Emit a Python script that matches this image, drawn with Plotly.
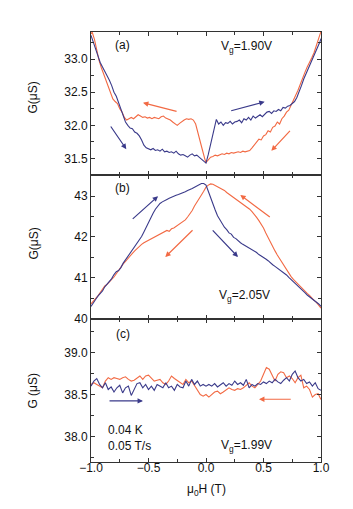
import plotly.graph_objects as go
from plotly.subplots import make_subplots

# panel (a), Vg = 1.90 V
h_a_up = [-1.00, -0.98, -0.96, -0.94, -0.92, -0.90, -0.88, -0.86, -0.84, -0.82,
          -0.80, -0.78, -0.76, -0.74, -0.72, -0.70, -0.68, -0.66, -0.64, -0.62,
          -0.60, -0.58, -0.56, -0.54, -0.52, -0.50, -0.48, -0.46, -0.44, -0.42,
          -0.40, -0.38, -0.36, -0.34, -0.32, -0.30, -0.28, -0.26, -0.24, -0.22,
          -0.20, -0.18, -0.16, -0.14, -0.12, -0.10, -0.08, -0.06, -0.04, -0.02,
          0.00, 0.02, 0.04, 0.06, 0.08, 0.09, 0.11, 0.13, 0.15, 0.17,
          0.19, 0.21, 0.23, 0.25, 0.27, 0.29, 0.31, 0.33, 0.35, 0.37,
          0.39, 0.41, 0.43, 0.45, 0.47, 0.49, 0.51, 0.53, 0.55, 0.57,
          0.59, 0.61, 0.63, 0.65, 0.67, 0.69, 0.71, 0.73, 0.75, 0.77,
          0.79, 0.81, 0.83, 0.85, 0.87, 0.89, 0.91, 0.93, 0.95, 0.97,
          0.99, 1.00]
g_a_up = [33.36, 33.25, 33.15, 33.05, 32.95, 32.88, 32.82, 32.75, 32.68, 32.60,
          32.50, 32.44, 32.34, 32.22, 32.15, 32.05, 32.00, 31.96, 31.95, 31.90,
          31.88, 31.84, 31.78, 31.70, 31.66, 31.64, 31.63, 31.65, 31.62, 31.63,
          31.61, 31.64, 31.60, 31.61, 31.59, 31.60, 31.58, 31.61, 31.57, 31.55,
          31.56, 31.54, 31.52, 31.55, 31.57, 31.54, 31.55, 31.52, 31.49, 31.47,
          31.43, 31.56, 31.72, 31.88, 32.04, 32.09, 32.02, 32.05, 32.00, 32.04,
          32.03, 32.06, 32.02, 32.05, 32.06, 32.08, 32.04, 32.10, 32.08, 32.12,
          32.08, 32.14, 32.11, 32.13, 32.16, 32.13, 32.17, 32.20, 32.21, 32.18,
          32.22, 32.21, 32.24, 32.22, 32.27, 32.26, 32.29, 32.30, 32.33, 32.36,
          32.42, 32.50, 32.60, 32.70, 32.78, 32.85, 32.92, 33.01, 33.08, 33.16,
          33.26, 33.31]

h_a_down = [-1.00, -0.99, -0.97, -0.95, -0.93, -0.91, -0.89, -0.87, -0.85, -0.83,
            -0.81, -0.79, -0.77, -0.75, -0.73, -0.71, -0.69, -0.67, -0.65, -0.63,
            -0.61, -0.59, -0.57, -0.55, -0.53, -0.51, -0.49, -0.47, -0.45, -0.43,
            -0.41, -0.39, -0.37, -0.35, -0.33, -0.31, -0.29, -0.27, -0.25, -0.23,
            -0.21, -0.19, -0.17, -0.15, -0.13, -0.11, -0.09, -0.07, -0.05, -0.03,
            -0.01, 0.00, 0.02, 0.04, 0.06, 0.08, 0.10, 0.12, 0.14, 0.16,
            0.18, 0.20, 0.22, 0.24, 0.26, 0.28, 0.30, 0.32, 0.34, 0.36,
            0.38, 0.40, 0.42, 0.44, 0.46, 0.48, 0.50, 0.52, 0.54, 0.56,
            0.58, 0.60, 0.62, 0.64, 0.66, 0.68, 0.70, 0.72, 0.74, 0.76,
            0.78, 0.80, 0.82, 0.84, 0.86, 0.88, 0.90, 0.92, 0.94, 0.96,
            0.98, 1.00]
g_a_down = [33.38, 33.41, 33.30, 33.12, 32.98, 32.87, 32.78, 32.66, 32.57, 32.48,
            32.40, 32.36, 32.33, 32.25, 32.20, 32.12, 32.08, 32.10, 32.12, 32.10,
            32.13, 32.16, 32.14, 32.12, 32.13, 32.11, 32.12, 32.10, 32.12, 32.11,
            32.10, 32.13, 32.14, 32.11, 32.10, 32.08, 32.05, 32.02, 32.00, 32.03,
            32.06, 32.08, 32.10, 32.09, 32.10, 32.08, 32.02, 31.90, 31.76, 31.62,
            31.49, 31.44, 31.48, 31.52, 31.53, 31.55, 31.54, 31.56, 31.57, 31.56,
            31.58, 31.57, 31.59, 31.58, 31.59, 31.60, 31.59, 31.61, 31.60, 31.61,
            31.62, 31.66, 31.70, 31.74, 31.79, 31.78, 31.84, 31.86, 31.92, 31.90,
            31.97, 31.99, 32.05, 32.02, 32.10, 32.14, 32.20, 32.23, 32.30, 32.37,
            32.45, 32.53, 32.62, 32.72, 32.80, 32.88, 32.94, 33.02, 33.10, 33.22,
            33.34, 33.42]

# panel (b), Vg = 2.05 V
h_b = [-1.00, -0.98, -0.96, -0.94, -0.92, -0.90, -0.88, -0.86, -0.84, -0.82,
       -0.80, -0.78, -0.76, -0.74, -0.72, -0.70, -0.68, -0.66, -0.64, -0.62,
       -0.60, -0.58, -0.56, -0.54, -0.52, -0.50, -0.48, -0.46, -0.44, -0.42,
       -0.40, -0.38, -0.36, -0.34, -0.32, -0.30, -0.28, -0.26, -0.24, -0.22,
       -0.20, -0.18, -0.16, -0.14, -0.12, -0.10, -0.08, -0.06, -0.04, -0.02,
       0.00, 0.02, 0.04, 0.06, 0.08, 0.10, 0.12, 0.14, 0.16, 0.18,
       0.20, 0.22, 0.24, 0.26, 0.28, 0.30, 0.32, 0.34, 0.36, 0.38,
       0.40, 0.42, 0.44, 0.46, 0.48, 0.50, 0.52, 0.54, 0.56, 0.58,
       0.60, 0.62, 0.64, 0.66, 0.68, 0.70, 0.72, 0.74, 0.76, 0.78,
       0.80, 0.82, 0.84, 0.86, 0.88, 0.90, 0.92, 0.94, 0.96, 0.98,
       1.00]
g_b_up = [40.30, 40.40, 40.47, 40.55, 40.62, 40.68, 40.78, 40.85, 40.90, 40.98,
          41.08, 41.15, 41.18, 41.25, 41.36, 41.44, 41.52, 41.58, 41.66, 41.74,
          41.82, 41.90, 42.01, 42.12, 42.24, 42.37, 42.48, 42.58, 42.68, 42.76,
          42.82, 42.86, 42.90, 42.92, 42.95, 42.98, 43.00, 43.02, 43.04, 43.06,
          43.08, 43.11, 43.14, 43.16, 43.19, 43.22, 43.25, 43.28, 43.31, 43.31,
          43.27, 43.12, 42.95, 42.80, 42.66, 42.52, 42.42, 42.33, 42.24, 42.18,
          42.10, 42.07, 41.99, 41.96, 41.90, 41.86, 41.82, 41.79, 41.76, 41.72,
          41.69, 41.67, 41.62, 41.57, 41.54, 41.50, 41.46, 41.42, 41.36, 41.32,
          41.28, 41.24, 41.20, 41.16, 41.11, 41.07, 41.01, 40.96, 40.91, 40.85,
          40.80, 40.74, 40.70, 40.64, 40.58, 40.54, 40.49, 40.44, 40.40, 40.36,
          40.30]
g_b_down = [40.36, 40.42, 40.50, 40.56, 40.64, 40.72, 40.80, 40.84, 40.90, 40.95,
            41.02, 41.10, 41.18, 41.28, 41.34, 41.40, 41.47, 41.55, 41.60, 41.66,
            41.72, 41.78, 41.82, 41.86, 41.89, 41.92, 41.96, 41.98, 42.01, 42.04,
            42.07, 42.09, 42.12, 42.16, 42.14, 42.20, 42.22, 42.26, 42.29, 42.33,
            42.36, 42.42, 42.49, 42.56, 42.65, 42.76, 42.86, 42.95, 43.03, 43.12,
            43.22, 43.27, 43.30, 43.29, 43.26, 43.23, 43.20, 43.18, 43.14, 43.09,
            43.05, 43.01, 42.97, 42.93, 42.88, 42.84, 42.80, 42.76, 42.72, 42.68,
            42.62, 42.56, 42.48, 42.40, 42.32, 42.22, 42.10, 41.98, 41.86, 41.76,
            41.66, 41.56, 41.47, 41.38, 41.28, 41.20, 41.11, 41.03, 40.96, 40.90,
            40.86, 40.80, 40.74, 40.68, 40.62, 40.57, 40.50, 40.45, 40.40, 40.34,
            40.26]

# panel (c), Vg = 1.99 V
h_c = [-1.000, -0.975, -0.950, -0.925, -0.900, -0.875, -0.850, -0.825, -0.800, -0.775,
       -0.750, -0.725, -0.700, -0.675, -0.650, -0.625, -0.600, -0.575, -0.550, -0.525,
       -0.500, -0.475, -0.450, -0.425, -0.400, -0.375, -0.350, -0.325, -0.300, -0.275,
       -0.250, -0.225, -0.200, -0.175, -0.150, -0.125, -0.100, -0.075, -0.050, -0.025,
       0.000, 0.025, 0.050, 0.075, 0.100, 0.125, 0.150, 0.175, 0.200, 0.225,
       0.250, 0.275, 0.300, 0.325, 0.350, 0.375, 0.400, 0.425, 0.450, 0.475,
       0.500, 0.525, 0.550, 0.575, 0.600, 0.625, 0.650, 0.675, 0.700, 0.725,
       0.750, 0.775, 0.800, 0.825, 0.850, 0.875, 0.900, 0.925, 0.950, 0.975,
       1.000]
g_c_up = [38.60, 38.66, 38.69, 38.62, 38.58, 38.64, 38.56, 38.59, 38.53, 38.58,
          38.61, 38.52, 38.58, 38.60, 38.49, 38.57, 38.63, 38.64, 38.58, 38.62,
          38.56, 38.60, 38.55, 38.62, 38.60, 38.58, 38.64, 38.58, 38.60, 38.55,
          38.62, 38.59, 38.58, 38.66, 38.60, 38.68, 38.62, 38.66, 38.60, 38.62,
          38.60, 38.62, 38.60, 38.63, 38.59, 38.62, 38.64, 38.60, 38.63, 38.61,
          38.66, 38.62, 38.64, 38.61, 38.68, 38.58, 38.62, 38.60, 38.63, 38.62,
          38.65, 38.63, 38.66, 38.64, 38.68, 38.65, 38.63, 38.67, 38.70, 38.66,
          38.74, 38.78, 38.70, 38.66, 38.68, 38.63, 38.65, 38.60, 38.64, 38.57,
          38.55]
g_c_down = [38.62, 38.64, 38.62, 38.60, 38.58, 38.66, 38.70, 38.68, 38.70, 38.69,
            38.68, 38.70, 38.71, 38.68, 38.66, 38.67, 38.69, 38.72, 38.68, 38.72,
            38.73, 38.70, 38.66, 38.67, 38.68, 38.64, 38.62, 38.66, 38.72, 38.69,
            38.67, 38.65, 38.62, 38.68, 38.64, 38.66, 38.61, 38.55, 38.50, 38.48,
            38.50, 38.47, 38.50, 38.53, 38.54, 38.51, 38.53, 38.55, 38.58, 38.56,
            38.55, 38.57, 38.56, 38.58, 38.61, 38.64, 38.60, 38.58, 38.62, 38.66,
            38.74, 38.82, 38.80, 38.72, 38.66, 38.74, 38.77, 38.76, 38.70, 38.72,
            38.69, 38.64, 38.70, 38.73, 38.58, 38.60, 38.56, 38.47, 38.50, 38.51,
            38.44]

blue = '#3a3a8a'
red = '#f26a44'
font = 'Liberation Sans, Arial, sans-serif'
txt_font = dict(size=12, color='#111', family=font)

fig = make_subplots(rows=3, cols=1, shared_xaxes=True, vertical_spacing=0)

curves = [(1, h_a_down, g_a_down, red), (1, h_a_up, g_a_up, blue),
          (2, h_b, g_b_down, red), (2, h_b, g_b_up, blue),
          (3, h_c, g_c_down, red), (3, h_c, g_c_up, blue)]
for row, h, g, col in curves:
    fig.add_trace(go.Scatter(x=h, y=g, mode='lines', line=dict(color=col, width=1.1),
                             showlegend=False, hoverinfo='skip'), row=row, col=1)

axis_style = dict(showline=True, linecolor='#333', linewidth=1, mirror='ticks',
                  ticks='inside', ticklen=4, tickcolor='#333', showgrid=False,
                  zeroline=False, tickfont=txt_font)

fig.update_xaxes(range=[-1, 1], dtick=0.5, tickformat='.1f', ticklabelstandoff=-5,
                 minor=dict(dtick=0.25, ticks='inside', ticklen=3, tickcolor='#333'),
                 **axis_style)
fig.update_yaxes(**axis_style)
fig.update_yaxes(range=[31.245, 33.41], tickvals=[31.5, 32.0, 32.5, 33.0], tickformat='.1f',
                 minor=dict(dtick=0.25, ticks='inside', ticklen=3, tickcolor='#333'), row=1, col=1)
fig.update_yaxes(range=[40.0, 43.51], tickvals=[40, 41, 42, 43],
                 minor=dict(dtick=0.5, ticks='inside', ticklen=3, tickcolor='#333'), row=2, col=1)
fig.update_yaxes(range=[37.70, 39.40], tickvals=[38.0, 38.5, 39.0], tickformat='.1f',
                 minor=dict(dtick=0.25, ticks='inside', ticklen=3, tickcolor='#333'), row=3, col=1)

# sweep-direction arrows: (x tail, y tail, x head, y head, axis, colour)
arrows = [(-0.243, 32.205, -0.548, 32.34, '', red),
          (-0.837, 32.005, -0.693, 31.64, '', blue),
          (0.206, 32.215, 0.510, 32.355, '', blue),
          (0.742, 31.94, 0.568, 31.615, '', red),
          (-0.65, 42.41, -0.417, 43.0, '2', blue),
          (-0.104, 42.2, -0.354, 41.51, '2', red),
          (0.568, 42.46, 0.298, 43.03, '2', red),
          (0.046, 42.2, 0.278, 41.51, '2', blue),
          (-0.852, 38.425, -0.548, 38.425, '3', blue),
          (0.75, 38.444, 0.461, 38.444, '3', red)]
for x0, y0, x1, y1, ax_id, col in arrows:
    fig.add_annotation(x=x1, y=y1, ax=x0, ay=y0, xref='x' + ax_id, yref='y' + ax_id,
                       axref='x' + ax_id, ayref='y' + ax_id, text='', showarrow=True,
                       arrowhead=2, arrowsize=0.9, arrowwidth=1.2, arrowcolor=col)

labels = [('(a)', -0.73, 33.21, ''), ('V<sub>g</sub>=1.90V', 0.348, 33.19, ''),
          ('(b)', -0.73, 43.195, '2'), ('V<sub>g</sub>=2.05V', 0.339, 40.56, '2'),
          ('(c)', -0.722, 39.214, '3'), ('V<sub>g</sub>=1.99V', 0.348, 37.893, '3')]
for txt, x, y, ax_id in labels:
    fig.add_annotation(x=x, y=y, xref='x' + ax_id, yref='y' + ax_id, text=txt,
                       xanchor='center', yanchor='middle', showarrow=False, font=txt_font)

fig.add_annotation(x=-0.87, y=37.988, xref='x3', yref='y3', text='0.04 K<br>0.05 T/s',
                   xanchor='left', yanchor='middle', align='left',
                   showarrow=False, font=txt_font)

for txt, y in [('G(μS)', 0.8465), ('G(μS)', 0.507), ('G (μS)', 0.165)]:
    fig.add_annotation(x=-0.25, y=y, xref='paper', yref='paper', text=txt, textangle=-90,
                       xanchor='center', yanchor='middle', showarrow=False, font=txt_font)
fig.add_annotation(x=0.5, y=-0.065, xref='paper', yref='paper', text='μ<sub>0</sub>H (T)',
                   xanchor='center', yanchor='middle', showarrow=False, font=txt_font)

fig.update_layout(width=353, height=509, margin=dict(l=83, r=40, t=24, b=55),
                  plot_bgcolor='white', paper_bgcolor='white',
                  font=dict(family=font, size=12, color='#111'))

fig.write_html("out.html")
